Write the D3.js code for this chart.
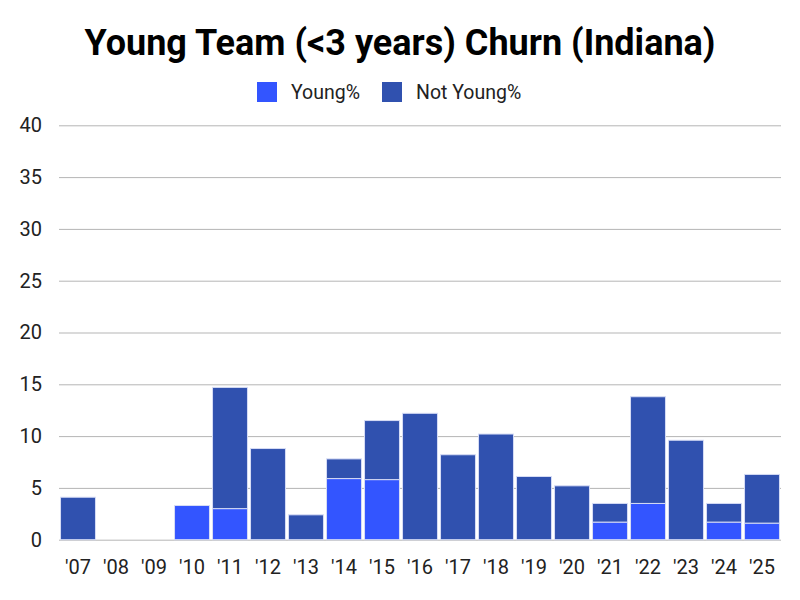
<!DOCTYPE html>
<html><head><meta charset="utf-8">
<script src="https://cdn.jsdelivr.net/npm/d3@7"></script>
<style>body{margin:0;background:#fff}svg{display:block}text{font-family:Roboto,"Noto Sans",sans-serif}</style>
</head><body>
<svg id="c" width="800" height="600"></svg>
<script>
const years = ["'07","'08","'09","'10","'11","'12","'13","'14","'15","'16","'17","'18","'19","'20","'21","'22","'23","'24","'25"];
const young = [0,0,0,3.3,3.0,0,0,5.9,5.8,0,0,0,0,0,1.7,3.5,0,1.7,1.6];
const notYoung = [4.1,0,0,0,11.7,8.8,2.4,1.9,5.7,12.2,8.2,10.2,6.1,5.2,1.8,10.3,9.6,1.8,4.7];
const seriesNames = ["Young%","Not Young%"];
const yTicks = [0,5,10,15,20,25,30,35,40];
const colors = ["#3355ff","#3051af"];

const svg = d3.select("#c");
const x = d3.scaleBand().domain(years).range([59,781]).paddingInner(0.08).paddingOuter(0.04);
const y = d3.scaleLinear().domain([0,40]).range([539.7,125.3]);

svg.append("text").attr("x",400).attr("y",55).attr("text-anchor","middle")
  .attr("font-size",37).attr("font-weight","bold").attr("fill","#000")
  .attr("textLength",631).attr("lengthAdjust","spacingAndGlyphs")
  .text("Young Team (<3 years) Churn (Indiana)");

// legend
const leg = [{name:seriesNames[0],c:colors[0],sx:257,tx:291},{name:seriesNames[1],c:colors[1],sx:382,tx:416}];
leg.forEach(l=>{
  svg.append("rect").attr("x",l.sx).attr("y",82).attr("width",20).attr("height",20).attr("fill",l.c);
  svg.append("text").attr("x",l.tx).attr("y",99).attr("font-size",19.5).attr("fill","#222").text(l.name);
});

// grid
const ya = d3.axisLeft(y).tickValues(yTicks).tickSize(-(781-59)).tickPadding(17);
const g = svg.append("g").attr("transform","translate(59,0)").call(ya);
g.select(".domain").remove();
g.selectAll(".tick line").attr("stroke","#b5b5b5").attr("stroke-width",1);
g.selectAll(".tick text").attr("font-size",20).attr("fill","#222").style("font-family","Roboto");

// bars
const data = years.map((yr,i)=>({yr,young:young[i],notYoung:notYoung[i]}));
const stack = d3.stack().keys(["young","notYoung"])(data);
stack.forEach((s,si)=>{
  svg.append("g").selectAll("rect").data(s.filter(d=>d[1]-d[0]>0)).join("rect")
    .attr("x",d=>x(d.data.yr)).attr("width",x.bandwidth())
    .attr("y",d=>y(d[1])).attr("height",d=>y(d[0])-y(d[1]))
    .attr("fill",colors[si]).attr("stroke","#d6dcf5").attr("stroke-width",1);
});

// x labels
const xa = d3.axisBottom(x).tickSize(0).tickPadding(20);
const gx = svg.append("g").attr("transform","translate(0,540)").call(xa);
gx.select(".domain").remove();
gx.selectAll(".tick text").attr("font-size",20).attr("fill","#222").style("font-family","Roboto");
</script>
</body></html>
